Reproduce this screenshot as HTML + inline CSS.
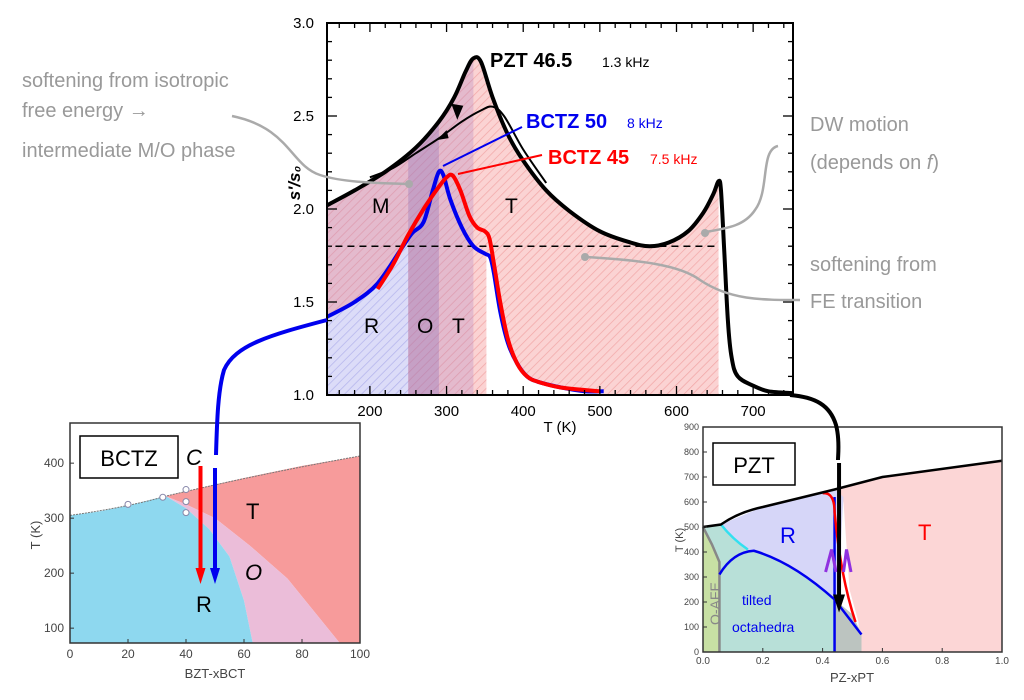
<!DOCTYPE html>
<html><head><meta charset="utf-8"><style>
html,body{margin:0;padding:0;background:#fff}
svg{display:block;font-family:"Liberation Sans",sans-serif}
</style></head><body>
<svg id="fig" width="1024" height="700" viewBox="0 0 1024 700">
<defs>
<pattern id="hatchP" width="6" height="6" patternUnits="userSpaceOnUse" patternTransform="rotate(45)"><rect width="6" height="6" fill="#fbd3d3"/><line x1="0" y1="0" x2="0" y2="6" stroke="#f2a8a8" stroke-width="1.5"/></pattern>
<pattern id="hatchB" width="6" height="6" patternUnits="userSpaceOnUse" patternTransform="rotate(45)"><rect width="6" height="6" fill="#dcdcf8"/><line x1="0" y1="0" x2="0" y2="6" stroke="#b4b4ec" stroke-width="1.5"/></pattern>
<clipPath id="plotClip"><rect x="327" y="23" width="466" height="372"/></clipPath>
</defs>
<g id="main"></g>
<g id="annot" fill="#999" font-size="20">
<text x="22" y="87">softening from isotropic</text>
<text x="22" y="117">free energy →</text>
<text x="22" y="157">intermediate M/O phase</text>
<text x="810" y="131">DW motion</text>
<text x="810" y="169">(depends on <tspan font-style="italic">f</tspan>)</text>
<text x="810" y="271">softening from</text>
<text x="810" y="308">FE transition</text>
<path d="M232,116 C290,128 290,165 320,175 C345,183 380,183 408,184" fill="none" stroke="#aaa" stroke-width="2.5"/>
<circle cx="409" cy="184" r="4" fill="#aaa"/>
<path d="M778,146 C760,150 770,190 755,210 C745,225 730,228 705,232" fill="none" stroke="#aaa" stroke-width="2.5"/>
<circle cx="705" cy="233" r="4" fill="#aaa"/>
<path d="M585,257 C640,260 680,265 700,280 C730,300 760,300 800,300" fill="none" stroke="#aaa" stroke-width="2.5"/>
<circle cx="585" cy="257" r="4" fill="#aaa"/>
</g>
<g id="bctz"></g>
<g id="pzt"></g>
<g>
<path d="M327,320 C270,335 235,345 224,370 C218,390 217,420 216,455" fill="none" stroke="#0000ee" stroke-width="4"/>
<path d="M790,395 C815,397 830,405 836,425 C840,440 838,455 838,460" fill="none" stroke="#000" stroke-width="4"/>
</g>
</svg>
<script>
// ===== Main chart data =====
const xTicks=[200,300,400,500,600,700];
const yTicks=[1.0,1.5,2.0,2.5,3.0];
const pztCoolT=[144,180,220,260,290,310,325,335,345,360,380,400,430,460,500,540,565,590,615,635,648,655,658,662,667,672,680,700,720,752];
const pztCoolV=[2.02,2.1,2.2,2.33,2.47,2.6,2.74,2.81,2.79,2.6,2.4,2.26,2.1,1.99,1.88,1.82,1.8,1.82,1.88,1.98,2.08,2.15,2.1,1.8,1.4,1.2,1.1,1.05,1.02,1.01];
const pztHeatT=[200,230,260,290,320,345,360,375,400,430];
const pztHeatV=[2.17,2.22,2.3,2.38,2.47,2.53,2.55,2.5,2.32,2.14];
const bctz50T=[144,180,210,240,255,270,282,290,296,305,320,335,350,357,362,370,380,392,405,420,450,480,505];
const bctz50V=[1.42,1.5,1.6,1.78,1.87,1.93,2.1,2.2,2.18,2.05,1.9,1.8,1.76,1.74,1.65,1.45,1.28,1.17,1.1,1.07,1.04,1.02,1.02];
const bctz45T=[210,230,250,270,290,300,308,318,330,340,350,356,362,370,380,392,405,420,450,500];
const bctz45V=[1.57,1.7,1.86,2.0,2.12,2.17,2.18,2.1,1.96,1.9,1.88,1.84,1.7,1.5,1.3,1.17,1.1,1.07,1.04,1.02];
const phaseBounds=[144,250,290,352,655];

const NS='http://www.w3.org/2000/svg';
function mk(tag,attrs,parent){const e=document.createElementNS(NS,tag);for(const k in attrs)e.setAttribute(k,attrs[k]);parent.appendChild(e);return e;}
const X0=327,X1=793,Y0=395,Y1=23,TMIN=144,TMAX=752;
const X=t=>X0+(t-TMIN)/(TMAX-TMIN)*(X1-X0);
const Y=v=>Y0-(v-1)/2*(Y0-Y1);
function interp(ts,vs,t){if(t<=ts[0])return vs[0];for(let i=1;i<ts.length;i++){if(t<=ts[i]){const f=(t-ts[i-1])/(ts[i]-ts[i-1]);return vs[i-1]+f*(vs[i]-vs[i-1]);}}return vs[vs.length-1];}
function pathOf(ts,vs){const P=ts.map((t,i)=>[X(t),Y(vs[i])]);let d='M'+P[0][0].toFixed(1)+','+P[0][1].toFixed(1);
for(let i=0;i<P.length-1;i++){const p0=P[Math.max(0,i-1)],p1=P[i],p2=P[i+1],p3=P[Math.min(P.length-1,i+2)];
const c1=[p1[0]+(p2[0]-p0[0])/6,p1[1]+(p2[1]-p0[1])/6],c2=[p2[0]-(p3[0]-p1[0])/6,p2[1]-(p3[1]-p1[1])/6];
d+=` C${c1[0].toFixed(1)},${c1[1].toFixed(1)} ${c2[0].toFixed(1)},${c2[1].toFixed(1)} ${p2[0].toFixed(1)},${p2[1].toFixed(1)}`;}return d;}
function under(ts,vs,a,b){let d='M'+X(a)+','+Y0;for(let t=a;t<=b;t+=2)d+=' L'+X(t).toFixed(1)+','+Y(interp(ts,vs,t)).toFixed(1);d+=' L'+X(b)+','+Y(interp(ts,vs,b)).toFixed(1)+' L'+X(b)+','+Y0+'Z';return d;}
const main=document.getElementById('main');
const shade=mk('g',{'clip-path':'url(#plotClip)'},main);


let p=mk('path',{d:under(pztCoolT,pztCoolV,phaseBounds[0],phaseBounds[4]),fill:'url(#hatchP)'},shade);


p=mk('path',{d:under(pztCoolT,pztCoolV,phaseBounds[0],335),fill:'#b080c0',opacity:0.3},shade);


let dR='M'+X(phaseBounds[0])+','+Y0;for(let t=phaseBounds[0];t<=phaseBounds[1];t+=2)dR+=' L'+X(t).toFixed(1)+','+Y(interp(bctz50T,bctz50V,t)).toFixed(1);dR+=' L'+X(phaseBounds[1])+','+Y0+'Z';
p=mk('path',{d:dR,fill:'url(#hatchB)'},shade);


p=mk('path',{d:under(pztCoolT,pztCoolV,phaseBounds[1],phaseBounds[2]),fill:'#9070b8',opacity:0.35},shade);


let dW='M'+X(phaseBounds[3])+','+Y0;for(let t=phaseBounds[3];t<=505;t+=2)dW+=' L'+X(t).toFixed(1)+','+Y(interp(bctz50T,bctz50V,t)).toFixed(1);dW+=' L'+X(505)+','+Y0+'Z';
p=mk('path',{d:dW,fill:'#fff'},shade);


p=mk('path',{d:under(pztCoolT,pztCoolV,phaseBounds[4],TMAX),fill:'#fff'},shade);


p=mk('line',{x1:X(155),x2:X(655),y1:Y(1.8),y2:Y(1.8),stroke:'#000','stroke-width':1.5,'stroke-dasharray':'7,5'},main);


const cg=mk('g',{'clip-path':'url(#plotClip)',fill:'none','stroke-linejoin':'round'},main);
p=mk('path',{d:pathOf(pztHeatT,pztHeatV),stroke:'#000','stroke-width':2},cg);


p=mk('path',{d:pathOf(pztCoolT,pztCoolV),stroke:'#000','stroke-width':4},cg);


p=mk('path',{d:pathOf(bctz50T,bctz50V),stroke:'#0000ee','stroke-width':4},cg);


p=mk('path',{d:pathOf(bctz45T,bctz45V),stroke:'#ff0000','stroke-width':4},cg);


p=mk('path',{d:`M${X(314)},${Y(2.48)} l-6,-16 l12,2 z`,fill:'#000'},main);


p=mk('path',{d:`M${X(287)},${Y(2.37)} l10,-10 l2,8 z`,fill:'#000'},main);


mk('line',{x1:443,y1:166,x2:522,y2:127,stroke:'#0000ee','stroke-width':2},main);
mk('line',{x1:458,y1:174,x2:542,y2:155,stroke:'#ff0000','stroke-width':2},main);
p=mk('rect',{x:X0,y:Y1,width:X1-X0,height:Y0-Y1,fill:'none',stroke:'#000','stroke-width':2},main);


for(let t=160;t<=740;t+=20){const maj=t%100===0,L=maj?9:5;mk('line',{x1:X(t),x2:X(t),y1:Y0,y2:Y0-L,stroke:'#000','stroke-width':1.3},main);mk('line',{x1:X(t),x2:X(t),y1:Y1,y2:Y1+L,stroke:'#000','stroke-width':1.3},main);}
for(let i=1;i<20;i++){const v=1+i*0.1,maj=i%5===0,L=maj?10:5;mk('line',{x1:X0,x2:X0+L,y1:Y(v),y2:Y(v),stroke:'#000','stroke-width':1.3},main);mk('line',{x1:X1,x2:X1-L,y1:Y(v),y2:Y(v),stroke:'#000','stroke-width':1.3},main);}
xTicks.forEach(t=>{const e=mk('text',{x:X(t),y:416,'text-anchor':'middle','font-size':15},main);e.textContent=t;

});
yTicks.forEach(v=>{const e=mk('text',{x:314,y:Y(v)+5,'text-anchor':'end','font-size':15},main);e.textContent=v.toFixed(1);

});
let e=mk('text',{x:560,y:432,'text-anchor':'middle','font-size':15},main);e.textContent='T (K)';


e=mk('text',{x:0,y:0,transform:'translate(300,183) rotate(-90)','text-anchor':'middle','font-size':17,'font-style':'italic','font-weight':'bold'},main);e.textContent="s'/s₀";


const labs=[['PZT 46.5',490,67,20,'#000','bold'],['1.3 kHz',602,67,14,'#000','normal'],['BCTZ 50',526,128,20,'#0000ee','bold'],['8 kHz',627,128,14,'#0000ee','normal'],['BCTZ 45',548,164,20,'#ff0000','bold'],['7.5 kHz',650,164,14,'#ff0000','normal'],['M',372,213,21,'#000','normal'],['T',505,213,21,'#000','normal'],['R',364,333,21,'#000','normal'],['O',417,333,21,'#000','normal'],['T',452,333,21,'#000','normal']];
labs.forEach(l=>{const t=mk('text',{x:l[1],y:l[2],'font-size':l[3],fill:l[4],'font-weight':l[5]},main);t.textContent=l[0];

});

// ===== BCTZ inset =====
const b=document.getElementById('bctz');
const bx=x=>70+x/100*290, by=T=>643-(T-73)*0.55;
const bctzXTicks=[0,20,40,60,80,100];
const bctzYTicks=[100,200,300,400];
mk('rect',{x:70,y:423,width:290,height:220,fill:'#fff'},b);
const P=pts=>'M'+pts.map(q=>bx(q[0]).toFixed(1)+','+by(q[1]).toFixed(1)).join(' L')+'Z';
p=mk('path',{d:P([[33,340],[45,355],[60,373],[80,395],[100,413],[100,73],[93,73],[85,125],[75,190],[62,250],[50,300],[40,325]]),fill:'#f79b9b'},b);


p=mk('path',{d:P([[33,340],[40,325],[50,300],[62,250],[75,190],[85,125],[93,73],[63,73],[60,150],[55,230],[48,280],[40,318]]),fill:'#ebbdd9'},b);


p=mk('path',{d:P([[0,305],[10,312],[20,323],[33,340],[40,318],[48,280],[55,230],[60,150],[63,73],[0,73]]),fill:'#8ed8ef'},b);


mk('path',{d:`M${bx(0)},${by(305)} Q${bx(20)},${by(320)} ${bx(33)},${by(340)} Q${bx(65)},${by(380)} ${bx(100)},${by(413)}`,fill:'none',stroke:'#777','stroke-width':1,'stroke-dasharray':'2,1'},b);
[[20,325],[32,338],[40,352],[40,330],[40,310]].forEach(q=>mk('circle',{cx:bx(q[0]),cy:by(q[1]),r:3,fill:'#fff',stroke:'#88a'},b));
mk('rect',{x:70,y:423,width:290,height:220,fill:'none',stroke:'#333','stroke-width':1.5},b);
bctzXTicks.forEach(v=>{mk('line',{x1:bx(v),x2:bx(v),y1:643,y2:639,stroke:'#333'},b);const t=mk('text',{x:bx(v),y:658,'text-anchor':'middle','font-size':12,fill:'#444'},b);t.textContent=v;

});
bctzYTicks.forEach(v=>{mk('line',{x1:70,x2:74,y1:by(v),y2:by(v),stroke:'#333'},b);const t=mk('text',{x:64,y:by(v)+4,'text-anchor':'end','font-size':12,fill:'#444'},b);t.textContent=v;

});
e=mk('text',{x:215,y:678,'text-anchor':'middle','font-size':13,fill:'#444'},b);e.textContent='BZT-xBCT';


e=mk('text',{x:0,y:0,transform:'translate(40,535) rotate(-90)','text-anchor':'middle','font-size':13,fill:'#444'},b);e.textContent='T (K)';


mk('rect',{x:80,y:436,width:98,height:42,fill:'#fff',stroke:'#000','stroke-width':1.5},b);
e=mk('text',{x:129,y:466,'text-anchor':'middle','font-size':22},b);e.textContent='BCTZ';


[['C',186,465,'italic'],['T',246,519,''],['O',245,580,'italic'],['R',196,612,'']].forEach(l=>{const t=mk('text',{x:l[1],y:l[2],'font-size':22,'font-style':l[3]||'normal'},b);t.textContent=l[0];

});
mk('line',{x1:bx(45),x2:bx(45),y1:466,y2:570,stroke:'#f00','stroke-width':4},b);
mk('path',{d:`M${bx(45)-5},568 l5,16 l5,-16z`,fill:'#f00'},b);
mk('line',{x1:bx(50),x2:bx(50),y1:468,y2:570,stroke:'#00e','stroke-width':4},b);
mk('path',{d:`M${bx(50)-5},568 l5,16 l5,-16z`,fill:'#00e'},b);

// ===== PZT inset =====
const z=document.getElementById('pzt');
const zx=x=>703+x*299, zy=T=>652-T*0.25;
const pztXTicks=[0.0,0.2,0.4,0.6,0.8,1.0];
const pztYTicks=[0,100,200,300,400,500,600,700,800,900];
const Z=pts=>'M'+pts.map(q=>zx(q[0]).toFixed(1)+','+zy(q[1]).toFixed(1)).join(' L')+'Z';
mk('rect',{x:703,y:427,width:299,height:225,fill:'#fff'},z);
p=mk('path',{d:Z([[0.44,650],[0.6,700],[0.8,735],[1,765],[1,0],[0.52,0],[0.52,120],[0.49,250],[0.47,600]]),fill:'#fcd6d6'},z);


p=mk('path',{d:Z([[0,500],[0.06,510],[0.2,580],[0.44,650],[0.47,620],[0.44,0],[0,0]]),fill:'#d6d6f8'},z);


p=mk('path',{d:Z([[0,500],[0.06,510],[0.1,450],[0.16,405],[0.25,370],[0.35,290],[0.44,210],[0.5,150],[0.53,70],[0.53,0],[0,0]]),fill:'#b8e0d8'},z);


mk('path',{d:Z([[0.44,210],[0.5,150],[0.53,70],[0.53,0],[0.44,0]]),fill:'#bcc4c0'},z);
p=mk('path',{d:Z([[0,500],[0.03,430],[0.055,360],[0.055,0],[0,0]]),fill:'#c8e0a4'},z);


mk('path',{d:`M${zx(0)},${zy(500)} L${zx(0.03)},${zy(430)} L${zx(0.055)},${zy(360)} L${zx(0.055)},652`,fill:'none',stroke:'#888','stroke-width':2.5},z);
mk('path',{d:`M${zx(0.06)},${zy(510)} Q${zx(0.1)},${zy(450)} ${zx(0.15)},${zy(410)}`,fill:'none',stroke:'#33e0f0','stroke-width':2.5},z);
mk('path',{d:`M${zx(0.055)},${zy(310)} Q${zx(0.1)},${zy(400)} ${zx(0.17)},${zy(405)} Q${zx(0.3)},${zy(360)} ${zx(0.44)},${zy(210)} L${zx(0.53)},${zy(70)}`,fill:'none',stroke:'#00e','stroke-width':2.5},z);
mk('line',{x1:zx(0.44),x2:zx(0.44),y1:zy(620),y2:652,stroke:'#00e','stroke-width':2.5},z);
mk('path',{d:`M${zx(0.4)},${zy(635)} Q${zx(0.44)},${zy(640)} ${zx(0.44)},${zy(560)} Q${zx(0.46)},${zy(300)} ${zx(0.51)},${zy(120)}`,fill:'none',stroke:'#f00','stroke-width':2.5},z);
p=mk('path',{d:`M${zx(0)},${zy(500)} L${zx(0.06)},${zy(510)} Q${zx(0.12)},${zy(560)} ${zx(0.2)},${zy(580)} L${zx(0.44)},${zy(650)} L${zx(0.6)},${zy(700)} L${zx(1)},${zy(765)}`,fill:'none',stroke:'#000','stroke-width':2.5},z);


mk('path',{d:`M${zx(0.41)},${zy(320)} L${zx(0.43)},${zy(410)} L${zx(0.445)},${zy(320)} M${zx(0.47)},${zy(320)} L${zx(0.48)},${zy(410)} L${zx(0.495)},${zy(320)}`,fill:'none',stroke:'#9030e0','stroke-width':3},z);
mk('line',{x1:zx(0.455),x2:zx(0.455),y1:463,y2:zy(230),stroke:'#000','stroke-width':4},z);
mk('path',{d:`M${zx(0.455)-6},${zy(230)} l6,18 l6,-18z`,fill:'#000'},z);
mk('rect',{x:703,y:427,width:299,height:225,fill:'none',stroke:'#333','stroke-width':1.5},z);
pztXTicks.forEach(v=>{mk('line',{x1:zx(v),x2:zx(v),y1:652,y2:648,stroke:'#333'},z);const t=mk('text',{x:zx(v),y:664,'text-anchor':'middle','font-size':10,fill:'#444'},z);t.textContent=v.toFixed(1);

});
pztYTicks.forEach(v=>{mk('line',{x1:703,x2:707,y1:zy(v),y2:zy(v),stroke:'#333'},z);const t=mk('text',{x:699,y:zy(v)+3,'text-anchor':'end','font-size':9,fill:'#444'},z);t.textContent=v;

});
e=mk('text',{x:852,y:682,'text-anchor':'middle','font-size':13,fill:'#444'},z);e.textContent='PZ-xPT';


e=mk('text',{x:0,y:0,transform:'translate(683,540) rotate(-90)','text-anchor':'middle','font-size':11,fill:'#444'},z);e.textContent='T (K)';


mk('rect',{x:713,y:443,width:82,height:42,fill:'#fff',stroke:'#000','stroke-width':1.5},z);
e=mk('text',{x:754,y:473,'text-anchor':'middle','font-size':22},z);e.textContent='PZT';


[['R',780,543,'#00e',22],['T',918,540,'#f00',22],['tilted',742,605,'#00e',14],['octahedra',732,632,'#00e',14]].forEach(l=>{const t=mk('text',{x:l[1],y:l[2],'font-size':l[4],fill:l[3]},z);t.textContent=l[0];

});
e=mk('text',{x:0,y:0,transform:'translate(720,625) rotate(-90)','font-size':14,fill:'#888'},z);e.textContent='O-AFE';


</script>
</body></html>
